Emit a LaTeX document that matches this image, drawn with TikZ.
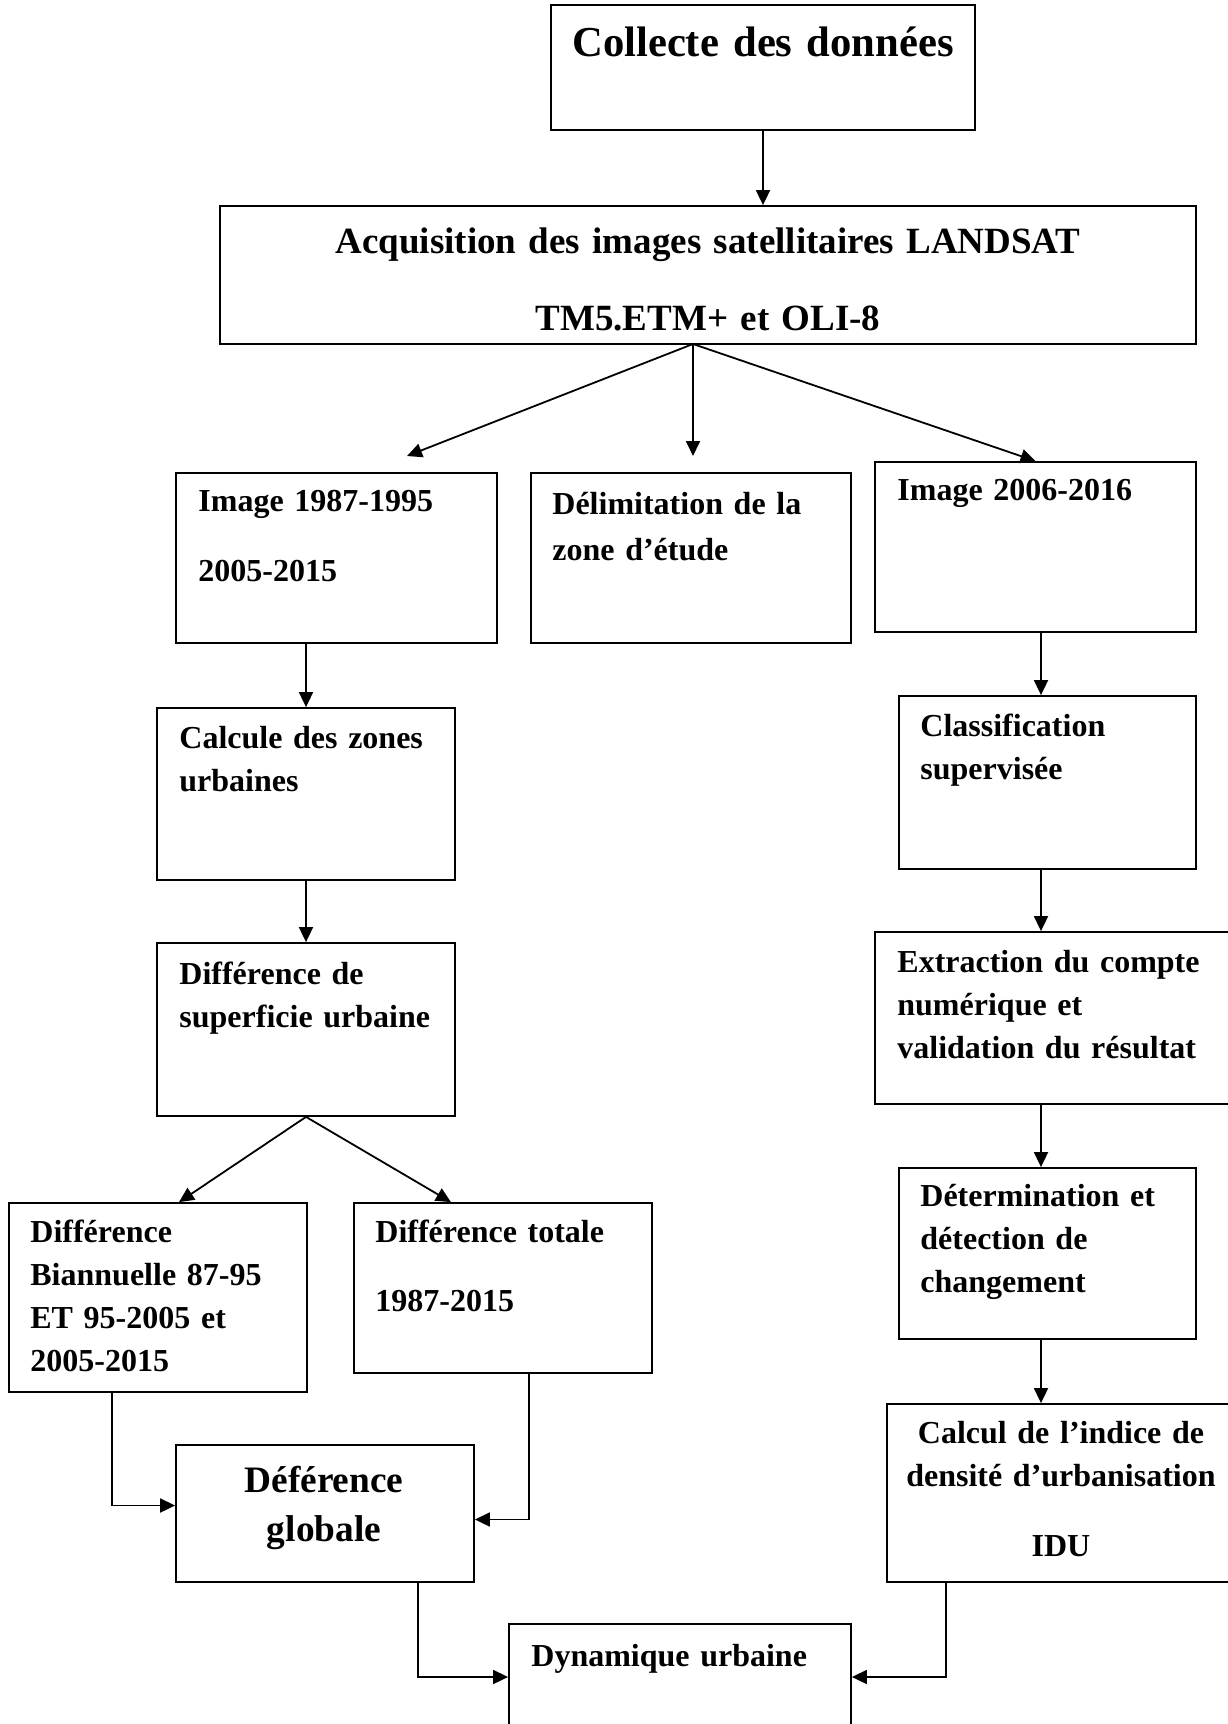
\documentclass[tikz,border=0pt]{standalone}
\usepackage{fontspec}
\setmainfont{Liberation Serif}
\usetikzlibrary{arrows.meta}
\newcommand{\bodyfont}{\fontsize{16}{21.5}\selectfont\bfseries}
\newcommand{\bigfont}{\fontsize{18.67}{24.5}\selectfont\bfseries}
\newcommand{\titlefont}{\fontsize{21.33}{26}\selectfont\bfseries}
\tikzset{
  box/.style={draw,line width=0.9pt,inner sep=0pt},
  txt/.style={inner sep=0pt,anchor=base west,align=left,font=\bodyfont,text width=#1},
  ctxt/.style={inner sep=0pt,anchor=base,align=center,font=\bodyfont,text width=#1},
  flow/.style={-{Triangle[length=7.5pt,width=7pt]},line width=0.9pt}
}

\begin{document}
\begin{tikzpicture}[x=1pt,y=-1pt]
    \useasboundingbox (0,0) rectangle (613.5,862);
    \node[box,minimum width=212pt,minimum height=62.5pt] (collect) at (381.5,33.75) {};
    \node[ctxt=212pt,font=\titlefont] (tcollect) at (381.5,28.4) {Collecte des données};
    \node[box,minimum width=488pt,minimum height=69pt] (acq) at (354,137.5) {};
    \node[ctxt=488pt,font={\fontsize{18.5}{38.5}\selectfont\bfseries}] (tacq) at (354,126.6) {Acquisition des images satellitaires LANDSAT\\TM5.ETM+ et OLI-8};

    \node[box,minimum width=160.5pt,minimum height=85pt] (img1) at (168.25,279) {};
    \node[txt=145pt] (timg1) at (99,255.8) {Image 1987-1995\\[13.5pt]2005-2015};
    \node[box,minimum width=160pt,minimum height=85pt] (delim) at (345.5,279) {};
    \node[txt=145pt] (tdelim) at (276,257.3) {Délimitation de la\\[1.5pt]zone d’étude};
    \node[box,minimum width=160.5pt,minimum height=85pt] (img2) at (517.75,273.5) {};
    \node[txt=145pt] (timg2) at (448.5,250.3) {Image 2006-2016};

    \node[box,minimum width=149pt,minimum height=86pt] (calc) at (153,397) {};
    \node[txt=135pt] (tcalc) at (89.5,374.3) {Calcule des zones\\urbaines};
    \node[box,minimum width=149pt,minimum height=86.5pt] (diff) at (153,514.75) {};
    \node[txt=135pt] (tdiff) at (89.5,492.3) {Différence de\\superficie urbaine};
    \node[box,minimum width=149pt,minimum height=94.5pt] (bian) at (79,648.75) {};
    \node[txt=135pt] (tbian) at (15,621.3) {Différence\\Biannuelle 87-95\\ET 95-2005 et\\2005-2015};
    \node[box,minimum width=149pt,minimum height=85pt] (tot) at (251.5,644) {};
    \node[txt=135pt] (ttot) at (187.5,621.3) {Différence totale\\[13pt]1987-2015};
    \node[box,minimum width=149pt,minimum height=68.5pt] (glob) at (162.5,756.75) {};
    \node[ctxt=149pt,font=\bigfont] (tglob) at (162,746.1) {Déférence\\globale};
    \node[box,minimum width=171pt,minimum height=53pt] (dyn) at (340,838.5) {};
    \node[txt=155pt] (tdyn) at (265.5,833.3) {Dynamique urbaine};

    \node[box,minimum width=148.5pt,minimum height=86.5pt] (clas) at (523.75,391.25) {};
    \node[txt=135pt] (tclas) at (460,368.3) {Classification\\supervisée};
    \node[box,minimum width=182.5pt,minimum height=86pt] (extr) at (528.75,509) {};
    \node[txt=160pt] (textr) at (448.5,486.3) {Extraction du compte\\numérique et\\validation du résultat};
    \node[box,minimum width=148.5pt,minimum height=85.5pt] (det) at (523.75,626.75) {};
    \node[txt=135pt] (tdet) at (460,603.3) {Détermination et\\détection de\\changement};
    \node[box,minimum width=176.5pt,minimum height=89pt] (idu) at (531.75,746.5) {};
    \node[ctxt=170pt] (tidu) at (530.5,721.8) {Calcul de l’indice de\\densité d’urbanisation\\[13.5pt]IDU};

    \coordinate (fan) at (346.5,172);
    \coordinate (f1) at (203.5,228);
    \coordinate (f2) at (346.5,228);
    \coordinate (rc) at (520.5,0);
    \draw[flow] (collect) -- (collect |- acq.north);
    \draw[flow] (fan) -- (f1);
    \draw[flow] (fan) -- (f2);
    \draw[flow] (fan) -- (img2.north);
    \draw[flow] (calc |- img1.south) -- (calc.north);
    \draw[flow] (calc) -- (diff);
    \draw[flow] (diff.south) -- ([xshift=10.5pt]bian.north);
    \draw[flow] (diff.south) -- ([xshift=-26pt]tot.north);
    \draw[flow] ([xshift=-23pt]bian.south) |- ([yshift=4pt]glob.west);
    \draw[flow] ([xshift=13pt]tot.south) |- ([yshift=-3pt]glob.east);
    \draw[flow] ([xshift=46.5pt]glob.south) |- (dyn.west);
    \draw[flow] ([xshift=-58.75pt]idu.south) |- (dyn.east);
    \draw[flow] (img2.south -| rc) -- (clas.north -| rc);
    \draw[flow] (clas.south -| rc) -- (extr.north -| rc);
    \draw[flow] (extr.south -| rc) -- (det.north -| rc);
    \draw[flow] (det.south -| rc) -- (idu.north -| rc);
\end{tikzpicture}
\end{document}
